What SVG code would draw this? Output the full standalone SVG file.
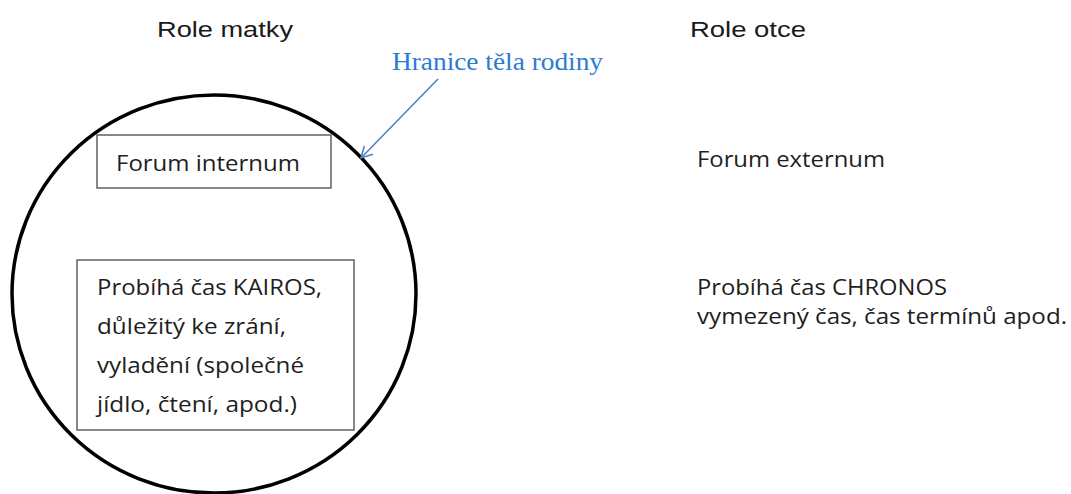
<svg xmlns="http://www.w3.org/2000/svg" width="1071" height="494" viewBox="0 0 1071 494">
<style>
.t{font-family:"Open Sans","Noto Sans",sans-serif;font-size:22px;fill:#1e1e1e}
.h{font-family:"Liberation Sans",Arial,sans-serif;font-size:22px;fill:#1a1a1a}
.box{fill:none;stroke:#555;stroke-width:1.4}
</style>
<defs>
<marker id="arr" markerWidth="14" markerHeight="14" refX="12" refY="7" orient="auto" markerUnits="userSpaceOnUse">
<path d="M1,1 L12,7 L1,13" fill="none" stroke="#4a7ebb" stroke-width="1.5"/>
</marker>
</defs>
<rect width="1071" height="494" fill="#fff"/>
<g id="title-matky"><text class="h" x="157" y="37" textLength="136" lengthAdjust="spacingAndGlyphs">Role matky</text></g>
<g id="title-otce"><text class="h" x="690" y="37" textLength="116" lengthAdjust="spacingAndGlyphs">Role otce</text></g>
<g id="family-boundary"><ellipse cx="214" cy="294" rx="202" ry="199" fill="none" stroke="#000" stroke-width="3.5"/></g>
<g id="label-boundary"><text x="392" y="70" textLength="211" lengthAdjust="spacingAndGlyphs" style="font-family:'Liberation Serif','Times New Roman',serif;font-size:25px;fill:#2b7cd0">Hranice těla rodiny</text></g>
<g id="forum-internum">
<rect class="box" x="97" y="135" width="234" height="53"/>
<text class="t" x="116" y="171" textLength="184" lengthAdjust="spacingAndGlyphs">Forum internum</text>
</g>
<g id="kairos">
<rect class="box" x="77" y="260" width="277" height="170"/>
<text class="t" x="97" y="295" textLength="225" lengthAdjust="spacingAndGlyphs">Probíhá čas KAIROS,</text>
<text class="t" x="97" y="334" textLength="189" lengthAdjust="spacingAndGlyphs">důležitý ke zrání,</text>
<text class="t" x="97" y="373" textLength="207" lengthAdjust="spacingAndGlyphs">vyladění (společné</text>
<text class="t" x="97" y="412" textLength="200" lengthAdjust="spacingAndGlyphs">jídlo, čtení, apod.)</text>
</g>
<g id="forum-externum"><text class="t" x="697" y="167" textLength="188" lengthAdjust="spacingAndGlyphs">Forum externum</text></g>
<g id="chronos">
<text class="t" x="697" y="295" textLength="250" lengthAdjust="spacingAndGlyphs">Probíhá čas CHRONOS</text>
<text class="t" x="697" y="324" textLength="370" lengthAdjust="spacingAndGlyphs">vymezený čas, čas termínů apod.</text>
</g>
<g id="connectors"><line x1="438" y1="79" x2="361" y2="158" stroke="#4a7ebb" stroke-width="1.5" marker-end="url(#arr)"/></g>
</svg>
